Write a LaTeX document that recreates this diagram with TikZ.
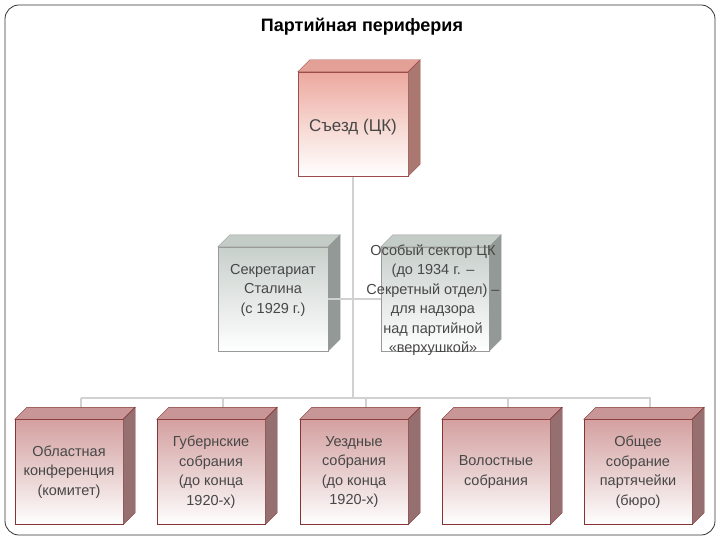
\documentclass[tikz,border=0pt]{standalone}
\usepackage{fontspec}
\setmainfont{Liberation Sans}
\definecolor{rtop}{RGB}{236,168,158}
\definecolor{rmid}{RGB}{246,214,208}
\definecolor{rface}{RGB}{226,160,150}
\definecolor{gtop}{RGB}{200,208,204}
\definecolor{gface}{RGB}{196,204,200}
\definecolor{ltop}{RGB}{212,160,160}
\definecolor{lmid}{RGB}{232,206,206}
\definecolor{lface}{RGB}{200,150,150}
\begin{document}
\begin{tikzpicture}[x=1pt,y=-1pt,
  txt/.style={text=black!72, font=\fontsize{14.5}{19.5}\selectfont, align=center},
  link/.style={draw=black!18, line width=1.2pt},
  redbox/.style={draw=red!45!black!70, top color=rtop, bottom color=white, middle color=rmid, minimum width=110pt, minimum height=104pt, inner sep=0pt, txt},
  graybox/.style={draw=black!40, top color=gtop, bottom color=white, minimum width=110pt, minimum height=104pt, inner sep=0pt, txt},
  lowbox/.style={draw=red!40!black!80, top color=ltop, bottom color=white, middle color=lmid, minimum width=108pt, minimum height=105pt, inner sep=0pt, txt}]
\useasboundingbox (0,0) rectangle (720,540);
\draw[black!80, rounded corners=14pt, line width=0.8pt] (5,5) rectangle (715,535);
\node[font=\bfseries\fontsize{18}{21}\selectfont] (title) at (362,27) {Партийная периферия};

\newcommand{\cube}[3]{% name, topcolor, sidecolor
  \fill[#2, draw=#3] (#1.north west) -- ++(12,-12) -- ([shift={(12,-12)}]#1.north east) -- (#1.north east) -- cycle;
  \fill[#2!75!black, draw=#3] (#1.north east) -- ++(12,-12) -- ([shift={(12,-12)}]#1.south east) -- (#1.south east) -- cycle;}

\coordinate (hub) at (353,398);
\coordinate (hl) at (81,398);
\coordinate (hr) at (651,398);
\draw[link] (353,176) -- (hub);
\draw[link] (hl) -- (hr);

\node[redbox] (top) at (353,124) {};
\cube{top}{rface}{red!45!black!70}
\node[txt, font=\fontsize{17}{20}\selectfont] (toptxt) at (353,127) {Съезд (ЦК)};

\node[graybox] (sec) at (273,299) {};
\cube{sec}{gface}{black!40}
\node[txt] (sectxt) at (273,290) {Секретариат\\Сталина\\(с 1929 г.)};
\node[graybox, minimum width=108pt] (spec) at (435,299) {};
\cube{spec}{gface}{black!40}
\draw[link] (sec.east) -- (spec.west);

\foreach \n/\x in {a/69,b/211,c/354,d/496,e/638}{
  \coordinate (\n top) at (\x+12,398);
  \draw[link] (\n top) -- ++(0,12);
}
\node[lowbox] (a) at (69,472) {Областная\\конференция\\(комитет)};
\node[lowbox] (b) at (211,472) {Губернские\\собрания\\(до конца\\1920-х)};
\node[lowbox] (c) at (354,472) {Уездные\\собрания\\(до конца\\1920-х)};
\node[lowbox] (d) at (496,472) {Волостные\\собрания};
\node[lowbox] (e) at (638,472) {Общее\\собрание\\партячейки\\(бюро)};
\foreach \n in {a,b,c,d,e}{\cube{\n}{lface}{red!40!black!80}}

\node[txt] (spectxt) at (433,300) {Особый сектор ЦК\\(до 1934 г. --\\Секретный отдел) --\\для надзора\\над  партийной\\«верхушкой»};
\end{tikzpicture}
\end{document}
